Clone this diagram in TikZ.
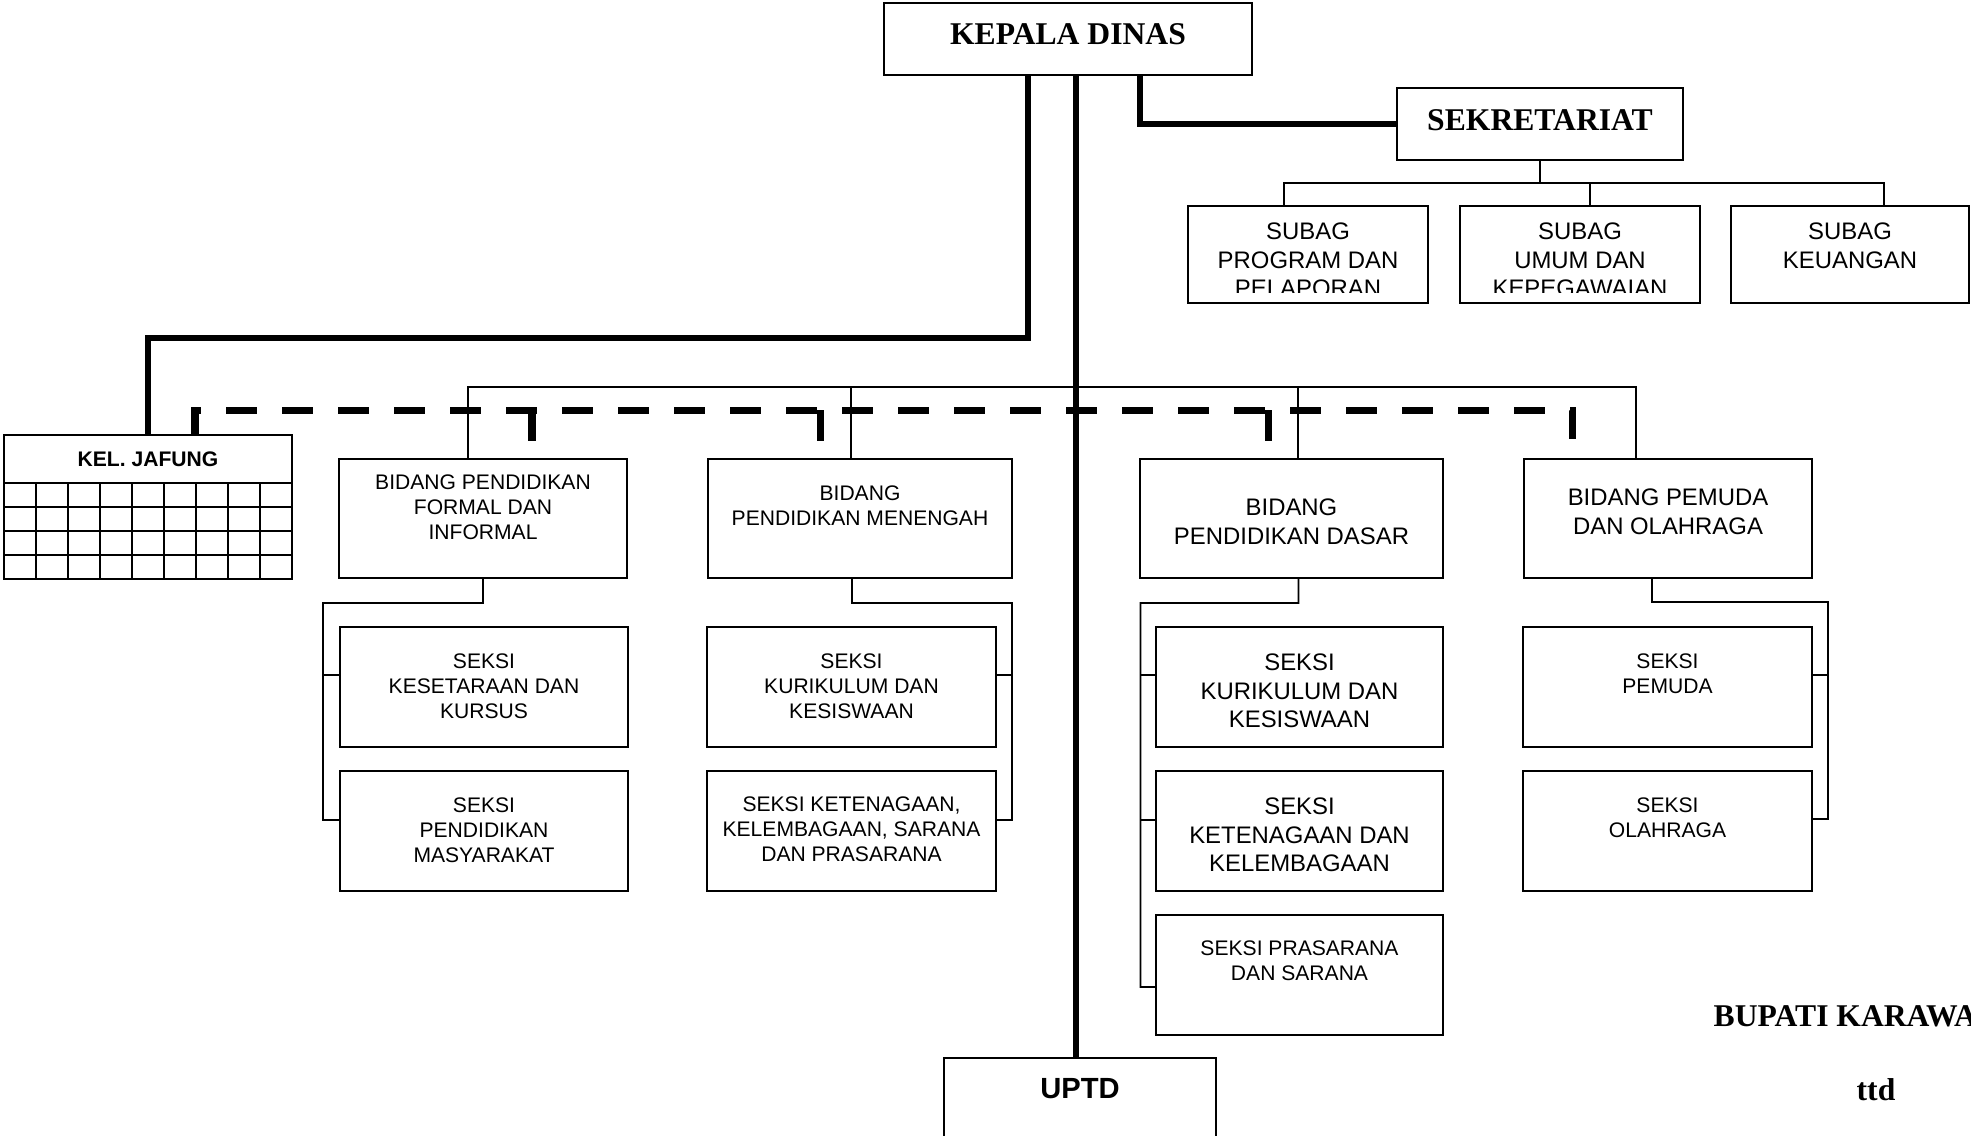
\documentclass[tikz,border=0pt]{standalone}
\usepackage{fontspec}
\setmainfont{Liberation Sans}
\newfontfamily\timesfont{Liberation Serif}
\usetikzlibrary{positioning}

\begin{document}
\begin{tikzpicture}[x=0.1mm,y=-0.1mm,
    box/.style={draw,line width=0.6pt,anchor=north west,inner sep=0pt,outer sep=0pt},
    txt/.style={align=center,inner sep=0pt,font=\fontsize{6}{7}\selectfont},
    txtl/.style={align=center,inner sep=0pt,font=\fontsize{6.8}{8.1}\selectfont},
    head/.style={inner sep=0pt,font=\timesfont\bfseries\fontsize{9}{11}\selectfont},
    thn/.style={line width=0.5pt},
    thk/.style={line width=1.6pt},
    dsh/.style={line width=2pt,dash pattern=on 3.1mm off 2.5mm}]
  \useasboundingbox (0,0) rectangle (1971,1135);

  % top
  \node[box,minimum width=36.8mm,minimum height=7.2mm] (kd) at (884,3) {};
  \node[head,below=1.95mm of kd.north] (kd-t) {KEPALA DINAS};
  \node[box,minimum width=28.6mm,minimum height=7.2mm] (sek) at (1397,88) {};
  \node[head,below=2.05mm of sek.north] (sek-t) {SEKRETARIAT};
  \node[box,minimum width=24mm,minimum height=9.7mm] (sb1) at (1188,206) {};
  \node[box,minimum width=24mm,minimum height=9.7mm] (sb2) at (1460,206) {};
  \node[box,minimum width=23.8mm,minimum height=9.7mm] (sb3) at (1731,206) {};
  \begin{scope}
    \clip (1188,206) rectangle (1971,292);
    \node[txtl,below=1.65mm of sb1.north] (sb1-t) {SUBAG\\PROGRAM DAN\\PELAPORAN};
    \node[txtl,below=1.65mm of sb2.north] (sb2-t) {SUBAG\\UMUM DAN\\KEPEGAWAIAN};
    \node[txtl,below=1.65mm of sb3.north] (sb3-t) {SUBAG\\KEUANGAN};
  \end{scope}

  % kel. jafung
  \node[box,minimum width=28.8mm,minimum height=4.8mm,
    font=\bfseries\fontsize{6}{7}\selectfont] (kj) at (4,435) {KEL. JAFUNG};
  \draw[line width=0.6pt] (kj.south west) rectangle ++(288,96);
  \foreach \c in {1,...,8}
    \draw[line width=0.6pt] (kj.south west) ++(\c*32,0) -- ++(0,96);
  \foreach \r in {1,2,3}
    \draw[line width=0.6pt] (kj.south west) ++(0,\r*24) -- ++(288,0);

  % bidang
  \node[box,minimum width=28.8mm,minimum height=11.9mm] (bpf) at (339,459) {};
  \node[txt,below=1.55mm of bpf.north] (bpf-t) {BIDANG PENDIDIKAN\\FORMAL DAN\\INFORMAL};
  \node[box,minimum width=30.4mm,minimum height=11.9mm] (bpm) at (708,459) {};
  \node[txt,below=2.65mm of bpm.north] (bpm-t) {BIDANG\\PENDIDIKAN MENENGAH};
  \node[box,minimum width=30.3mm,minimum height=11.9mm] (bpd) at (1140,459) {};
  \node[txtl,below=3.95mm of bpd.north] (bpd-t) {BIDANG\\PENDIDIKAN DASAR};
  \node[box,minimum width=28.8mm,minimum height=11.9mm] (bpo) at (1524,459) {};
  \node[txtl,below=2.95mm of bpo.north] (bpo-t) {BIDANG PEMUDA\\DAN OLAHRAGA};

  % seksi
  \node[box,minimum width=28.8mm,minimum height=12mm] (s1a) at (340,627) {};
  \node[txt,below=2.65mm of s1a.north] (s1a-t) {SEKSI\\KESETARAAN DAN\\KURSUS};
  \node[box,minimum width=28.8mm,minimum height=12mm] (s1b) at (340,771) {};
  \node[txt,below=2.65mm of s1b.north] (s1b-t) {SEKSI\\PENDIDIKAN\\MASYARAKAT};
  \node[box,minimum width=28.9mm,minimum height=12mm] (s2a) at (707,627) {};
  \node[txt,below=2.65mm of s2a.north] (s2a-t) {SEKSI\\KURIKULUM DAN\\KESISWAAN};
  \node[box,minimum width=28.9mm,minimum height=12mm] (s2b) at (707,771) {};
  \node[txt,below=2.55mm of s2b.north] (s2b-t) {SEKSI KETENAGAAN,\\KELEMBAGAAN, SARANA\\DAN PRASARANA};
  \node[box,minimum width=28.7mm,minimum height=12mm] (s3a) at (1156,627) {};
  \node[txtl,below=2.65mm of s3a.north] (s3a-t) {SEKSI\\KURIKULUM DAN\\KESISWAAN};
  \node[box,minimum width=28.7mm,minimum height=12mm] (s3b) at (1156,771) {};
  \node[txtl,below=2.65mm of s3b.north] (s3b-t) {SEKSI\\KETENAGAAN DAN\\KELEMBAGAAN};
  \node[box,minimum width=28.7mm,minimum height=12mm] (s3c) at (1156,915) {};
  \node[txt,below=2.55mm of s3c.north] (s3c-t) {SEKSI PRASARANA\\DAN SARANA};
  \node[box,minimum width=28.9mm,minimum height=12mm] (s4a) at (1523,627) {};
  \node[txt,below=2.65mm of s4a.north] (s4a-t) {SEKSI\\PEMUDA};
  \node[box,minimum width=28.9mm,minimum height=12mm] (s4b) at (1523,771) {};
  \node[txt,below=2.65mm of s4b.north] (s4b-t) {SEKSI\\OLAHRAGA};

  \node[box,minimum width=27.2mm,minimum height=10mm] (uptd) at (944,1058) {};
  \node[inner sep=0pt,font=\bfseries\fontsize{8.3}{10}\selectfont,
    below=1.95mm of uptd.north] (uptd-t) {UPTD};

  \node[head,anchor=base west] (bup) at (1713,1026) {BUPATI KARAWANG};
  \node[head,anchor=base] (ttd) at (1876,1100) {ttd};

  % lines
  \draw[thk] ([xshift=7.2mm]kd.south) |- (sek.west);
  \draw[thk] ([xshift=-4mm]kd.south) -- ++(0,263) -| (kj.north);
  \coordinate (kd-c) at ([xshift=0.8mm]kd.south);
  \draw[thk] (kd-c) -- (kd-c |- uptd.north);

  \draw[thn] (sek.south) -- ++(0,23) coordinate (sek-b);
  \draw[thn] ([xshift=-2.4mm]sb1.north) |- (sek-b) -| ([xshift=3.4mm]sb3.north);
  \draw[thn] ([xshift=1mm]sb2.north) -- ++(0,-23);

  \coordinate (bus) at (1076,387);
  \draw[thn] ([xshift=-1.5mm]bpf.north) |- (bus) -| ([xshift=-3.2mm]bpo.north);
  \draw[thn] ([xshift=-0.9mm]bpm.north) -- ++(0,-72);
  \draw[thn] ([xshift=0.65mm]bpd.north) -- ++(0,-72);

  \coordinate (dl) at (1076,410);
  \draw[dsh] ([xshift=4.7mm]kj.north) |- (dl) -| ([xshift=-9.6mm]bpo.north);
  \draw[dsh] ([xshift=4.9mm,yshift=4.9mm]bpf.north) -- ([xshift=4.9mm]bpf.north);
  \draw[dsh] ([xshift=-4mm,yshift=4.9mm]bpm.north) -- ([xshift=-4mm]bpm.north);
  \draw[dsh] ([xshift=-2.35mm,yshift=4.9mm]bpd.north) -- ([xshift=-2.35mm]bpd.north);

  \draw[thn] (bpf.south) -- ++(0,25) -| ++(-160,217) -- ([yshift=1.1mm]s1b.west);
  \draw[thn] ([yshift=1.2mm]s1a.west) -- ++(-17,0);
  \draw[thn] ([xshift=-0.8mm]bpm.south) -- ++(0,25) -| ++(160,217) -- ([yshift=1.1mm]s2b.east);
  \draw[thn] ([yshift=1.2mm]s2a.east) -- ++(16,0);
  \draw[thn] ([xshift=0.7mm]bpd.south) -- ++(0,25) -| ++(-158,384) -- ([yshift=-1.2mm]s3c.west);
  \draw[thn] ([yshift=1.2mm]s3a.west) -- ++(-16,0);
  \draw[thn] ([yshift=1.1mm]s3b.west) -- ++(-16,0);
  \draw[thn] ([xshift=-1.6mm]bpo.south) -- ++(0,24) -| ++(176,217) -- ([yshift=1.2mm]s4b.east);
  \draw[thn] ([yshift=1.2mm]s4a.east) -- ++(16,0);
\end{tikzpicture}
\end{document}
